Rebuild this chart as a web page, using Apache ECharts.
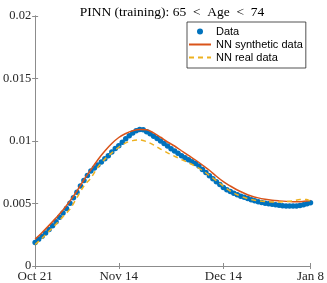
<!DOCTYPE html>
<html>
<head>
<meta charset="utf-8">
<script src="https://cdn.jsdelivr.net/npm/echarts@6/dist/echarts.min.js"></script>
<style>html,body{margin:0;padding:0;background:#fff}#c{width:327px;height:283px}</style>
</head>
<body>
<div id="c"></div>
<script>
// Day offsets from Oct 21
const tickDays = [0, 24, 54, 79];
const tickLabels = ['Oct 21', 'Nov 14', 'Dec 14', 'Jan 8'];
const yTicks = [0, 0.005, 0.01, 0.015, 0.02];

const dataDays = [0,1,2,3,4,5,6,7,8,9,10,11,12,13,14,15,16,17,18,19,20,21,22,23,24,25,26,27,28,29,30,31,32,33,34,35,36,37,38,39,40,41,42,43,44,45,46,47,48,49,50,51,52,53,54,55,56,57,58,59,60,61,62,63,64,65,66,67,68,69,70,71,72,73,74,75,76,77,78,79];
const dataVals = [0.00188,0.00214,0.00238,0.00265,0.00292,0.00322,0.00354,0.00390,0.00425,0.00460,
  0.00502,0.00546,0.00590,0.00640,0.00685,0.00725,0.00760,0.00785,0.00808,0.00832,
  0.00858,0.00882,0.00912,0.00940,0.00962,0.00990,0.01018,0.01042,0.01065,0.01082,
  0.01092,0.01090,0.01075,0.01058,0.01038,0.01020,0.01000,0.00980,0.00960,0.00938,
  0.00920,0.00902,0.00882,0.00866,0.00850,0.00835,0.00820,0.00800,0.00772,0.00748,
  0.00722,0.00698,0.00675,0.00652,0.00628,0.00610,0.00596,0.00582,0.00570,0.00558,
  0.00550,0.00540,0.00530,0.00522,0.00514,0.00508,0.00503,0.00498,0.00494,0.00490,
  0.00486,0.00483,0.00481,0.00480,0.00480,0.00481,0.00484,0.00490,0.00498,0.00506];

const nnDays = [0,2,4,6,8,10,12,14,16,18,20,22,24,26,28,30,32,34,36,38,40,42,44,46,48,50,52,54,56,58,60,62,64,66,68,70,72,74,76,78,79];
const synthVals = [0.00215,0.00268,0.00325,0.00385,0.00448,0.00520,0.00600,0.00690,0.00770,0.00850,
  0.00920,0.00980,0.01028,0.01060,0.01082,0.01092,0.01090,0.01065,0.01030,0.00992,
  0.00960,0.00922,0.00885,0.00848,0.00808,0.00766,0.00718,0.00675,0.00640,0.00608,
  0.00582,0.00560,0.00545,0.00534,0.00526,0.00521,0.00517,0.00515,0.00515,0.00520,0.00525];
const realVals = [0.00172,0.00222,0.00278,0.00335,0.00395,0.00455,0.00548,0.00640,0.00705,0.00790,
  0.00855,0.00905,0.00950,0.00985,0.01003,0.01008,0.00995,0.00968,0.00935,0.00905,
  0.00878,0.00852,0.00826,0.00798,0.00765,0.00725,0.00683,0.00638,0.00600,0.00570,
  0.00548,0.00532,0.00522,0.00516,0.00512,0.00512,0.00515,0.00522,0.00532,0.00532,0.00515];

const zip = (a, b) => a.map((d, i) => [d, b[i]]);
const serif = 'Liberation Serif';
const axisCol = '#8c8c8c';
const txtCol = '#262626';

const chart = echarts.init(document.getElementById('c'), null, {renderer: 'canvas'});
const baseX = {
  type: 'value', min: 0, max: 79,
  splitLine: {show: false},
  axisLine: {show: true, lineStyle: {color: axisCol, width: 1}},
  axisTick: {show: true, inside: true, length: 3, customValues: tickDays, lineStyle: {color: axisCol}}
};
const baseY = {
  type: 'value', min: 0, max: 0.02, interval: 0.005,
  splitLine: {show: false},
  axisLine: {show: true, lineStyle: {color: axisCol, width: 1}},
  axisTick: {show: true, inside: true, length: 3, lineStyle: {color: axisCol}}
};
chart.setOption({
  animation: false,
  backgroundColor: '#fff',
  title: {
    text: 'PINN (training): 65\u2002<\u2002Age\u2002<\u200274',
    left: 167, textAlign: 'center', top: 0,
    textStyle: {fontFamily: serif, fontSize: 13.5, fontWeight: 'normal', color: '#000'}
  },
  grid: {left: 34, right: 15, top: 16, bottom: 17},
  legend: {
    orient: 'vertical', left: 187, top: 22,
    padding: [3, 3, 4, 1],
    itemWidth: 22, itemHeight: 6, itemGap: 0,
    borderColor: '#262626', borderWidth: 0.8, backgroundColor: '#fff',
    textStyle: {fontFamily: 'Liberation Sans', fontSize: 11, color: '#000', lineHeight: 13},
    data: [
      {name: 'Data', icon: 'circle'},
      {name: 'NN synthetic data', itemStyle: {opacity: 0}},
      {name: 'NN real data', itemStyle: {opacity: 0}}
    ]
  },
  xAxis: [
    Object.assign({}, baseX, {
      position: 'bottom',
      axisLabel: {show: true, customValues: tickDays, margin: 4,
        fontFamily: serif, fontSize: 13, color: txtCol,
        formatter: v => tickLabels[tickDays.indexOf(v)] || ''}
    }),
    Object.assign({}, baseX, {position: 'top', axisLabel: {show: false}})
  ],
  yAxis: [
    Object.assign({}, baseY, {
      position: 'left',
      axisLabel: {show: true, margin: 4, fontFamily: serif, fontSize: 12.5, color: txtCol,
        formatter: v => { const i = yTicks.findIndex(t => Math.abs(t - v) < 1e-9); return i >= 0 ? String(yTicks[i]) : ''; }}
    }),
    Object.assign({}, baseY, {position: 'right', axisLabel: {show: false}})
  ],
  series: [
    {
      name: 'Data', type: 'scatter', data: zip(dataDays, dataVals),
      symbol: 'circle', symbolSize: 5.5,
      itemStyle: {color: '#0072BD', opacity: 1}
    },
    {
      name: 'NN synthetic data', type: 'line', data: zip(nnDays, synthVals),
      showSymbol: false, symbol: 'none', smooth: 0.3,
      lineStyle: {color: '#D95319', width: 1.5},
      itemStyle: {color: '#D95319'}
    },
    {
      name: 'NN real data', type: 'line', data: zip(nnDays, realVals),
      showSymbol: false, symbol: 'none', smooth: 0.3,
      lineStyle: {color: '#EDB120', width: 1.5, type: [5, 4]},
      itemStyle: {color: '#EDB120'}
    }
  ]
});
</script>
</body>
</html>
